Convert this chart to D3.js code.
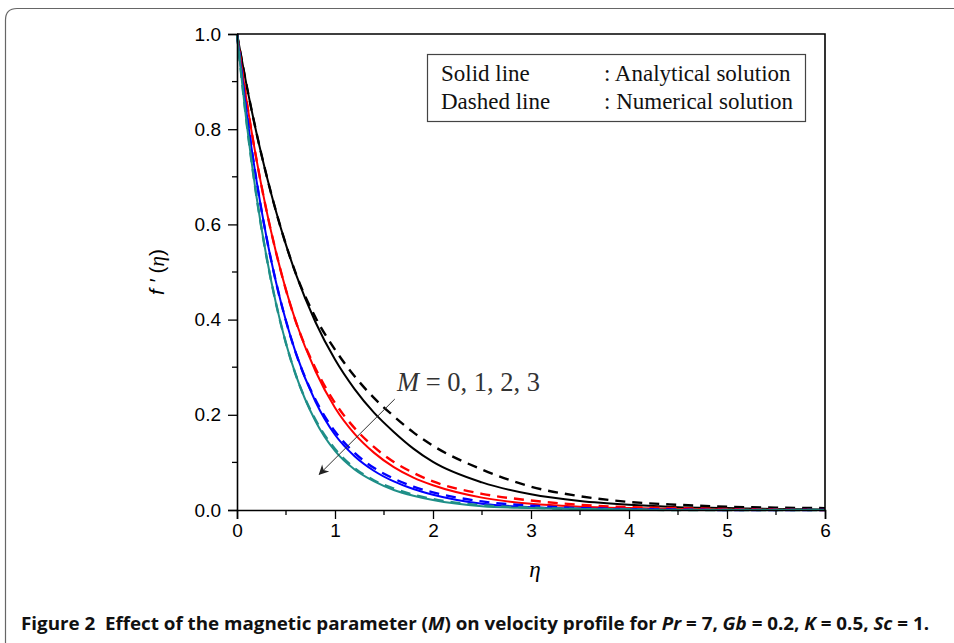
<!DOCTYPE html>
<html>
<head>
<meta charset="utf-8">
<script src="https://cdn.jsdelivr.net/npm/d3@7"></script>
<style>
  body { margin: 0; background: #fff; }
  svg { display: block; }
</style>
</head>
<body>
<div id="chart"></div>
<script>
// eta grid shared by all curves
const eta = [0, 0.1, 0.2, 0.3, 0.4, 0.5, 0.6, 0.8, 1.0, 1.2, 1.4, 1.6, 1.8, 2.0, 2.5, 3.0, 3.5, 4.0, 4.5, 5.0, 5.5, 6.0];

// analytical (solid) and numerical (dashed) f'(eta) for M = 0, 1, 2, 3
const m0Solid  = [1, 0.890, 0.791, 0.704, 0.626, 0.557, 0.496, 0.395, 0.316, 0.254, 0.204, 0.164, 0.129, 0.101, 0.058, 0.033, 0.019, 0.011, 0.006, 0.004, 0.002, 0.001];
const m0Dashed = [1, 0.890, 0.791, 0.704, 0.626, 0.557, 0.497, 0.405, 0.337, 0.281, 0.235, 0.197, 0.163, 0.135, 0.085, 0.049, 0.029, 0.017, 0.011, 0.007, 0.005, 0.004];
const m1Solid  = [1, 0.857, 0.735, 0.630, 0.540, 0.462, 0.396, 0.292, 0.215, 0.160, 0.120, 0.090, 0.068, 0.052, 0.026, 0.013, 0.007, 0.004, 0.002, 0.001, 0.0005, 0];
const m1Dashed = [1, 0.857, 0.735, 0.630, 0.540, 0.462, 0.396, 0.298, 0.225, 0.172, 0.132, 0.101, 0.078, 0.060, 0.034, 0.020, 0.011, 0.006, 0.004, 0.002, 0.001, 0];
const m2Solid  = [1, 0.831, 0.691, 0.574, 0.477, 0.397, 0.330, 0.228, 0.158, 0.113, 0.082, 0.060, 0.044, 0.032, 0.013, 0.006, 0.003, 0.0015, 0, 0, 0, 0];
const m2Dashed = [1, 0.831, 0.691, 0.574, 0.477, 0.397, 0.330, 0.232, 0.165, 0.120, 0.088, 0.066, 0.049, 0.037, 0.018, 0.009, 0.004, 0.002, 0.001, 0, 0, 0];
const m3Solid  = [1, 0.810, 0.657, 0.533, 0.432, 0.350, 0.284, 0.187, 0.124, 0.085, 0.060, 0.042, 0.030, 0.021, 0.008, 0.004, 0.002, 0.001, 0, 0, 0, 0];
const m3Dashed = [1, 0.810, 0.657, 0.533, 0.432, 0.350, 0.284, 0.190, 0.128, 0.088, 0.062, 0.045, 0.032, 0.023, 0.010, 0.005, 0.002, 0.001, 0, 0, 0, 0];

const xTicks = [0, 1, 2, 3, 4, 5, 6];
const yTicks = [0, 0.2, 0.4, 0.6, 0.8, 1.0];
const legendRows = [["Solid line", ": Analytical solution"], ["Dashed line", ": Numerical solution"]];
// arrow of the "M = 0, 1, 2, 3" note, in data units (tail, head)
const arrowEta = [1.61, 0.84];
const arrowF = [0.233, 0.075];

const width = 954, height = 643;
const margin = {left: 237, right: 129, top: 34, bottom: 133};

const svg = d3.select("#chart").append("svg")
  .attr("width", width)
  .attr("height", height);

svg.append("rect").attr("width", width).attr("height", height).attr("fill", "#fff");

// outer figure frame, rounded top-left corner, runs off the page
svg.append("path")
  .attr("d", "M5.5,660 L5.5,20 Q5.5,8.5 17,8.5 L970,8.5")
  .attr("fill", "none")
  .attr("stroke", "#666")
  .attr("stroke-width", 1.2);

let x = d3.scaleLinear().domain([0, 6]).range([margin.left, width - margin.right]);
let y = d3.scaleLinear().domain([0, 1]).range([height - margin.bottom, margin.top]);

let g = svg.append("g");

// curves
const series = [
  {v: m0Solid, color: "#000000", dash: null},
  {v: m0Dashed, color: "#000000", dash: "10,7"},
  {v: m1Solid, color: "#ff0000", dash: null},
  {v: m1Dashed, color: "#ff0000", dash: "10,7"},
  {v: m2Solid, color: "#0000ff", dash: null},
  {v: m2Dashed, color: "#0000ff", dash: "10,7"},
  {v: m3Solid, color: "#1f8f88", dash: null},
  {v: m3Dashed, color: "#1f8f88", dash: "10,7"}
];

let line = d3.line()
  .x((d, i) => x(eta[i]))
  .y(d => y(d))
  .curve(d3.curveMonotoneX);

g.selectAll("path.curve")
  .data(series)
  .join("path")
  .attr("class", "curve")
  .attr("d", d => line(d.v))
  .attr("fill", "none")
  .attr("stroke", d => d.color)
  .attr("stroke-width", d => d.dash ? 2.4 : 2)
  .attr("stroke-dasharray", d => d.dash);

// axes
let xAxis = d3.axisBottom(x).tickValues(xTicks).tickFormat(d3.format("d")).tickSize(9).tickPadding(5);
let yAxis = d3.axisLeft(y).tickValues(yTicks).tickFormat(d3.format(".1f")).tickSize(9).tickPadding(7);

let gx = svg.append("g").attr("transform", `translate(0,${y(0)})`).call(xAxis);
let gy = svg.append("g").attr("transform", `translate(${x(0)},0)`).call(yAxis);

// minor ticks
gx.selectAll("line.minor")
  .data(d3.range(0.5, 6, 1))
  .join("line")
  .attr("class", "minor")
  .attr("x1", d => x(d)).attr("x2", d => x(d))
  .attr("y1", 0).attr("y2", 5)
  .attr("stroke", "#000").attr("stroke-width", 1.3);
gy.selectAll("line.minor")
  .data(d3.range(0.1, 1, 0.2))
  .join("line")
  .attr("class", "minor")
  .attr("y1", d => y(d)).attr("y2", d => y(d))
  .attr("x1", 0).attr("x2", -5)
  .attr("stroke", "#000").attr("stroke-width", 1.3);

[gx, gy].forEach(a => {
  a.select(".domain").attr("stroke", "#000").attr("stroke-width", 1.6);
  a.selectAll(".tick line").attr("stroke", "#000").attr("stroke-width", 1.3);
  a.selectAll(".tick text")
    .attr("fill", "#000")
    .attr("font-family", "'Liberation Sans', Arial, sans-serif")
    .attr("font-size", "19px");
});

// top and right border of the plot box
svg.append("path")
  .attr("d", `M${x(0)},${y(1)} L${x(6)},${y(1)} L${x(6)},${y(0)}`)
  .attr("fill", "none")
  .attr("stroke", "#000")
  .attr("stroke-width", 1.6);

// legend box
svg.append("rect")
  .attr("x", 427.5).attr("y", 54.5)
  .attr("width", 378).attr("height", 67)
  .attr("fill", "#fff")
  .attr("stroke", "#444")
  .attr("stroke-width", 1.2);

let lg = svg.append("g")
  .attr("font-family", "'Liberation Serif', 'Times New Roman', serif")
  .attr("font-size", "23px")
  .attr("fill", "#111");
legendRows.forEach((r, i) => {
  lg.append("text").attr("x", 441).attr("y", 81 + i * 28).text(r[0]);
  lg.append("text").attr("x", 604).attr("y", 81 + i * 28).text(r[1]);
});

// annotation arrow
svg.append("defs").append("marker")
  .attr("id", "head")
  .attr("viewBox", "0 0 10 10")
  .attr("refX", 9).attr("refY", 5)
  .attr("markerWidth", 14).attr("markerHeight", 10)
  .attr("markerUnits", "userSpaceOnUse")
  .attr("orient", "auto")
  .append("path")
  .attr("d", "M0,0 L10,5 L0,10 L3,5 Z")
  .attr("fill", "#222");

svg.append("line")
  .attr("x1", x(arrowEta[0])).attr("y1", y(arrowF[0]))
  .attr("x2", x(arrowEta[1])).attr("y2", y(arrowF[1]))
  .attr("stroke", "#333")
  .attr("stroke-width", 1)
  .attr("marker-end", "url(#head)");

let note = svg.append("text")
  .attr("x", 397).attr("y", 391)
  .attr("font-family", "'Liberation Serif', 'Times New Roman', serif")
  .attr("font-size", "26.5px")
  .attr("fill", "#333");
note.append("tspan").attr("font-style", "italic").text("M");
note.append("tspan").text(" = 0, 1, 2, 3");

// axis titles
svg.append("text")
  .attr("x", 535).attr("y", 577)
  .attr("text-anchor", "middle")
  .attr("font-family", "'Liberation Serif', serif")
  .attr("font-style", "italic")
  .attr("font-size", "23px")
  .text("η");

let yl = svg.append("text")
  .attr("transform", "translate(164,272) rotate(-90)")
  .attr("text-anchor", "middle")
  .attr("font-size", "21px");
yl.append("tspan").attr("font-family", "'Liberation Sans', Arial, sans-serif").attr("font-style", "italic").text("f ′ ");
yl.append("tspan").attr("font-family", "'Liberation Sans', Arial, sans-serif").text("(");
yl.append("tspan").attr("font-family", "'Liberation Serif', serif").attr("font-style", "italic").text("η");
yl.append("tspan").attr("font-family", "'Liberation Sans', Arial, sans-serif").text(")");

// caption
let cap = svg.append("text")
  .attr("x", 21).attr("y", 630)
  .attr("font-family", "'Open Sans', 'Noto Sans', sans-serif")
  .attr("font-weight", "bold")
  .attr("font-size", "17px")
  .attr("fill", "#111")
  .attr("textLength", 908)
  .attr("lengthAdjust", "spacingAndGlyphs");
[
  ["Figure 2  Effect of the magnetic parameter (", false],
  ["M", true],
  [") on velocity profile for ", false],
  ["Pr", true], [" = 7, ", false],
  ["Gb", true], [" = 0.2, ", false],
  ["K", true], [" = 0.5, ", false],
  ["Sc", true], [" = 1.", false]
].forEach(p => {
  cap.append("tspan").attr("font-style", p[1] ? "italic" : "normal").attr("xml:space", "preserve").text(p[0]);
});
</script>
</body>
</html>
